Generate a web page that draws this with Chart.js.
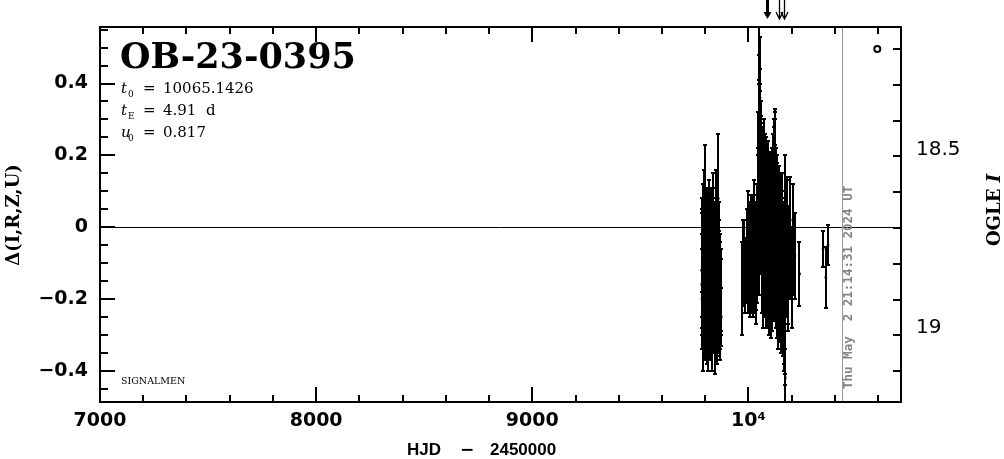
<!DOCTYPE html>
<html><head><meta charset="utf-8">
<script src="https://cdn.jsdelivr.net/npm/chart.js@4.4.1/dist/chart.umd.min.js"></script>
<style>html,body{margin:0;padding:0;background:#fff;}#c{display:block;}</style>
</head><body>
<canvas id="c" width="1004" height="459"></canvas>
<script>
// ---- data (HJD - 2450000, delta mag, error) ----
const s1HJD = [9783,9785,9787,9789,9790,9792,9794,9795,9797,9799,9800,9802,9804,9806,9808,9810,9811,9813,9815,9817,9819,9820,9822,9824,9826,9828,9830,9832,9834,9836,9838,9840,9842,9844,9846,9848,9850,9852,9854,9856,9858,9860,9862,9864,9866,9868,9870,9872,9874];
const s1Delta = [-0.12,-0.20,-0.05,-0.15,-0.28,-0.08,0.02,-0.18,-0.10,0.05,-0.22,-0.14,-0.06,-0.25,-0.12,-0.02,-0.19,-0.09,-0.30,-0.13,0.00,-0.17,-0.07,-0.24,-0.11,-0.03,-0.20,-0.28,-0.10,-0.15,0.00,-0.22,-0.08,-0.30,-0.13,-0.05,-0.18,0.02,-0.12,-0.26,-0.09,0.08,-0.15,-0.20,-0.06,-0.23,-0.12,-0.18,-0.25];
const s1Err = [0.16,0.14,0.13,0.15,0.12,0.15,0.14,0.17,0.12,0.18,0.15,0.14,0.16,0.13,0.15,0.12,0.16,0.14,0.10,0.15,0.13,0.14,0.15,0.13,0.16,0.14,0.15,0.12,0.14,0.16,0.15,0.13,0.14,0.11,0.15,0.13,0.14,0.14,0.16,0.12,0.14,0.18,0.14,0.15,0.13,0.14,0.10,0.12,0.08];

const s1bHJD = [9784,9786,9788,9791,9793,9796,9798,9801,9803,9805,9807,9809,9812,9814,9816,9818,9821,9823,9825,9827,9829,9831,9833,9835,9837,9839,9841,9843,9845,9847,9849,9851,9853,9855,9857,9859,9861,9863,9865,9867,9869,9871];
const s1bDelta = [-0.16,-0.10,-0.21,-0.04,-0.13,-0.19,-0.08,-0.15,-0.24,-0.11,-0.03,-0.17,-0.09,-0.20,-0.14,-0.06,-0.22,-0.12,-0.18,-0.07,-0.25,-0.10,-0.15,-0.02,-0.19,-0.13,-0.08,-0.21,-0.16,-0.11,-0.04,-0.18,-0.23,-0.09,-0.14,-0.20,-0.06,-0.17,-0.12,-0.22,-0.15,-0.19];
const s1bErr = [0.14,0.15,0.13,0.16,0.14,0.15,0.13,0.14,0.12,0.15,0.14,0.16,0.13,0.14,0.15,0.13,0.14,0.16,0.13,0.15,0.12,0.14,0.15,0.13,0.14,0.16,0.15,0.13,0.14,0.12,0.15,0.14,0.13,0.15,0.16,0.14,0.13,0.15,0.14,0.12,0.11,0.10];

const s2aHJD = [9972,9980,9988,9995,10000,10005,10010,10015,10020,10025,10030,10035,10040];
const s2aDelta = [-0.17,-0.08,-0.12,-0.05,-0.02,-0.10,-0.04,-0.14,-0.08,0.02,-0.10,-0.12,-0.06];
const s2aErr = [0.13,0.10,0.09,0.10,0.12,0.11,0.13,0.10,0.12,0.11,0.14,0.15,0.15];

const s2a2HJD = [9977,9985,9992,9998,10003,10008,10013,10018,10023,10028,10033,10038];
const s2a2Delta = [-0.10,-0.14,-0.06,-0.11,-0.03,-0.13,-0.07,-0.02,-0.12,-0.05,-0.09,-0.01];
const s2a2Err = [0.12,0.10,0.11,0.13,0.10,0.12,0.14,0.11,0.13,0.12,0.14,0.13];

const s2bHJD = [10044,10046,10048,10050,10051,10052,10053,10054,10055,10056,10058,10060,10062,10064,10066,10069,10072,10075,10078,10081,10084,10087,10090,10093,10096,10099,10102,10105,10108,10111,10114,10117,10119,10121,10123,10125,10127,10130,10133,10136,10139,10142,10145,10148,10151,10154,10157,10160,10163,10165,10167,10169,10170,10172,10175,10178,10181,10185,10190,10195,10200,10205,10210,10215,10236];
const s2bDelta = [0.10,0.22,0.32,0.40,0.48,0.44,0.36,0.30,0.26,0.20,0.15,0.24,0.12,0.05,0.18,0.08,0.14,-0.02,0.10,0.04,-0.06,0.08,0.00,-0.10,0.06,-0.04,0.02,-0.12,0.10,0.04,-0.08,0.10,0.16,0.20,0.08,0.22,-0.02,0.06,-0.08,0.04,-0.14,-0.05,0.00,-0.18,-0.08,0.02,-0.20,-0.12,-0.28,-0.16,-0.34,0.06,-0.42,-0.10,-0.04,0.02,-0.15,-0.06,-0.02,-0.10,-0.16,0.02,-0.08,-0.08,-0.13];
const s2bErr = [0.12,0.10,0.09,0.08,0.08,0.09,0.08,0.10,0.12,0.10,0.14,0.11,0.13,0.15,0.10,0.14,0.12,0.15,0.13,0.14,0.16,0.12,0.15,0.14,0.13,0.16,0.15,0.14,0.12,0.13,0.15,0.14,0.14,0.12,0.15,0.11,0.16,0.14,0.15,0.13,0.15,0.16,0.14,0.14,0.15,0.13,0.15,0.16,0.12,0.14,0.10,0.14,0.08,0.15,0.14,0.12,0.14,0.12,0.16,0.10,0.12,0.10,0.11,0.12,0.09];

const s2cHJD = [10045,10047,10049,10057,10059,10061,10063,10065,10067,10068,10070,10071,10073,10074,10076,10077,10079,10080,10082,10083,10085,10086,10088,10089,10091,10092,10094,10095,10097,10098,10100,10101,10103,10104,10106,10107,10109,10110,10112,10113,10115,10116,10118,10120,10122,10124,10126,10128,10129,10131,10132,10134,10135,10137,10138,10140,10141,10143,10144,10146,10147,10149,10150,10152,10153,10155,10156,10158,10159,10161,10162,10164,10166,10168,10171,10173,10176,10180,10183,10188];
const s2cDelta = [0.08,-0.05,0.12,0.18,0.02,0.10,-0.08,0.14,0.04,-0.12,0.16,0.00,0.09,-0.10,0.12,-0.04,0.06,-0.14,0.10,0.02,-0.08,0.08,-0.12,0.04,-0.02,0.10,-0.15,0.05,-0.06,0.02,-0.12,0.06,-0.04,-0.16,0.03,-0.09,0.08,-0.13,0.00,-0.06,0.12,-0.10,0.15,0.04,-0.08,0.18,0.02,-0.12,0.08,-0.04,-0.16,0.04,-0.09,0.00,-0.20,-0.06,0.02,-0.14,-0.08,-0.02,-0.18,-0.10,0.00,-0.22,-0.12,-0.05,-0.16,-0.24,-0.08,-0.14,-0.20,-0.26,-0.10,-0.30,-0.06,-0.12,-0.02,-0.10,-0.14,-0.08];
const s2cErr = [0.12,0.14,0.12,0.13,0.15,0.14,0.16,0.13,0.15,0.16,0.14,0.15,0.16,0.15,0.14,0.16,0.15,0.14,0.15,0.16,0.15,0.14,0.16,0.15,0.16,0.14,0.15,0.16,0.15,0.14,0.16,0.15,0.14,0.15,0.16,0.15,0.14,0.16,0.15,0.14,0.14,0.16,0.13,0.15,0.16,0.12,0.15,0.16,0.14,0.15,0.15,0.14,0.16,0.15,0.14,0.16,0.15,0.14,0.16,0.15,0.14,0.16,0.15,0.13,0.16,0.15,0.14,0.12,0.15,0.16,0.14,0.12,0.15,0.11,0.14,0.13,0.15,0.12,0.13,0.12];

const s3HJD = [10345,10358,10368];
const s3Delta = [-0.06,-0.14,-0.05];
const s3Err = [0.05,0.085,0.055];

const markerHJD = [10596];
const markerDelta = [0.496];
const arrowHJD = [10084,10141,10166];
const arrowBold = [true,false,false];
const nowHJD = 10433.385;
const nowLabel = 'Thu May  2 21:14:31 2024 UT';

const xTickValues = [7000,8000,9000,10000];
const xTickLabels = ['7000','8000','9000','10\u2074'];
const yTickValues = [-0.4,-0.2,0,0.2,0.4];
const yTickLabels = ['\u22120.4','\u22120.2','0','0.2','0.4'];
const y2TickValues = [18.5,19];
const y2TickLabels = ['18.5','19'];

const hjd = [].concat(s1HJD,s1bHJD,s2aHJD,s2a2HJD,s2bHJD,s2cHJD,s3HJD);
const delta = [].concat(s1Delta,s1bDelta,s2aDelta,s2a2Delta,s2bDelta,s2cDelta,s3Delta);
const err = [].concat(s1Err,s1bErr,s2aErr,s2a2Err,s2bErr,s2cErr,s3Err);

function lookup(vals,labels,v){
  for(let i=0;i<vals.length;i++){ if(Math.abs(vals[i]-v)<1e-6) return labels[i]; }
  return '';
}

const errorBars = {
  id:'errorBars',
  beforeDatasetsDraw(chart){
    const {ctx, chartArea:a} = chart;
    const x = chart.scales.x, y = chart.scales.y;
    ctx.save();
    ctx.beginPath(); ctx.rect(a.left,a.top,a.right-a.left,a.bottom-a.top); ctx.clip();
    ctx.strokeStyle='#000'; ctx.lineWidth=1;
    const y0 = Math.round(y.getPixelForValue(0))+0.5;
    ctx.beginPath(); ctx.moveTo(a.left,y0); ctx.lineTo(a.right,y0); ctx.stroke();
    const xn = Math.round(x.getPixelForValue(nowHJD))+0.5;
    ctx.strokeStyle='#999'; ctx.lineWidth=1;
    ctx.beginPath(); ctx.moveTo(xn,a.top); ctx.lineTo(xn,a.bottom); ctx.stroke();
    ctx.strokeStyle='#000'; ctx.lineWidth=2;
    for(let i=0;i<hjd.length;i++){
      const px = Math.round(x.getPixelForValue(hjd[i]));
      const t = Math.round(y.getPixelForValue(delta[i]+err[i]));
      const b = Math.round(y.getPixelForValue(delta[i]-err[i]));
      ctx.beginPath();
      ctx.moveTo(px,t); ctx.lineTo(px,b);
      ctx.moveTo(px-2,t); ctx.lineTo(px+2,t);
      ctx.moveTo(px-2,b); ctx.lineTo(px+2,b);
      ctx.stroke();
    }
    ctx.restore();
  }
};

const decor = {
  id:'decor',
  afterDraw(chart){
    const {ctx, chartArea:a} = chart;
    const x = chart.scales.x, y = chart.scales.y, y2 = chart.scales.y2;
    ctx.save();
    ctx.strokeStyle='#000'; ctx.fillStyle='#000'; ctx.lineWidth=2;
    ctx.strokeRect(a.left,a.top,a.right-a.left,a.bottom-a.top);
    ctx.beginPath();
    for(let v=7000; v<=x.max; v+=200){
      const px = Math.round(x.getPixelForValue(v));
      const L = (v%1000===0)?15:7;
      ctx.moveTo(px,a.bottom); ctx.lineTo(px,a.bottom-L);
      ctx.moveTo(px,a.top); ctx.lineTo(px,a.top+L);
    }
    for(let k=-9;k<=11;k++){
      const v=k*0.05; if(v<y.min||v>y.max) continue;
      const py = Math.round(y.getPixelForValue(v));
      const L = (k%4===0)?15:8;
      ctx.moveTo(a.left,py); ctx.lineTo(a.left+L,py);
    }
    for(let k=182;k<=1920;k+=10){
      const v=k/100; if(v<y2.min||v>y2.max) continue;
      const py = Math.round(y2.getPixelForValue(v));
      const L = (k===1850||k===1900)?15:8;
      ctx.moveTo(a.right,py); ctx.lineTo(a.right-L,py);
    }
    ctx.stroke();

    arrowHJD.forEach((h,i)=>{
      const px = Math.round(x.getPixelForValue(h))+0.5;
      const tip = 19;
      if(arrowBold[i]){
        ctx.lineWidth=3;
        ctx.beginPath(); ctx.moveTo(px,0); ctx.lineTo(px,tip-5); ctx.stroke();
        ctx.beginPath(); ctx.moveTo(px-4,tip-7); ctx.lineTo(px+4,tip-7); ctx.lineTo(px,tip); ctx.closePath(); ctx.fill();
      } else {
        ctx.lineWidth=1.3;
        ctx.beginPath(); ctx.moveTo(px,0); ctx.lineTo(px,tip);
        ctx.moveTo(px-3.5,tip-7); ctx.lineTo(px,tip); ctx.lineTo(px+3.5,tip-7); ctx.stroke();
      }
    });

    ctx.textBaseline='alphabetic'; ctx.textAlign='left';
    ctx.font='bold 35px "DejaVu Serif"';
    ctx.fillText('OB-23-0395',120,68);
    function param(yb,sym,sub,val){
      ctx.font='italic 15px "DejaVu Serif"'; ctx.fillText(sym,121,yb);
      ctx.font='9px "DejaVu Serif"'; ctx.fillText(sub,128,yb+4);
      ctx.font='15px "DejaVu Serif"'; ctx.fillText('=',143,yb); ctx.fillText(val,163,yb);
    }
    param(93,'t','0','10065.1426');
    param(115,'t','E','4.91  d');
    param(137,'u','0','0.817');
    ctx.font='9.5px "DejaVu Serif"';
    ctx.fillText('SIGNALMEN',121,384);

    ctx.font='bold 17px "Liberation Sans"';
    ctx.fillText('HJD',407,455);
    ctx.fillText('2450000',490,455);
    ctx.font='bold 17px "DejaVu Sans"';
    ctx.fillText('\u2212',460,455);

    ctx.save();
    ctx.translate(14,215); ctx.rotate(-Math.PI/2);
    ctx.textAlign='center'; ctx.textBaseline='middle';
    ctx.font='bold 18px "DejaVu Serif"';
    ctx.fillText('\u0394(I,R,Z,U)',0,0);
    ctx.restore();

    ctx.save();
    ctx.translate(995,210); ctx.rotate(-Math.PI/2);
    ctx.textBaseline='middle'; ctx.textAlign='left';
    ctx.font='bold 18px "DejaVu Serif"';
    const w1 = ctx.measureText('OGLE ').width;
    ctx.font='bold italic 18px "DejaVu Serif"';
    const w2 = ctx.measureText('I').width;
    const start = -(w1+w2)/2;
    ctx.font='bold 18px "DejaVu Serif"'; ctx.fillText('OGLE ',start,0);
    ctx.font='bold italic 18px "DejaVu Serif"'; ctx.fillText('I',start+w1,0);
    ctx.restore();

    ctx.save();
    const xn = x.getPixelForValue(nowHJD);
    ctx.translate(xn+7,389); ctx.rotate(-Math.PI/2);
    ctx.textAlign='left'; ctx.textBaseline='middle';
    ctx.fillStyle='#858585';
    ctx.font='bold 12.5px "DejaVu Sans Mono"';
    ctx.fillText(nowLabel,0,0);
    ctx.restore();

    ctx.restore();
  }
};

const points = hjd.map((h,i)=>({x:h,y:delta[i]}));
const marker = markerHJD.map((h,i)=>({x:h,y:markerDelta[i]}));

function fixTicks(vals){ return (s)=>{ s.ticks = vals.map(v=>({value:v})); }; }

new Chart(document.getElementById('c'),{
  type:'scatter',
  data:{datasets:[
    {data:points, pointStyle:'rect', pointRadius:1.8, backgroundColor:'#000', borderWidth:0, yAxisID:'y'},
    {data:marker, pointStyle:'circle', pointRadius:3, backgroundColor:'#fff', borderColor:'#000', borderWidth:2, yAxisID:'y'}
  ]},
  options:{
    responsive:false, animation:false, devicePixelRatio:1, events:[],
    layout:{padding:{top:26,left:0,right:0,bottom:0}},
    plugins:{legend:{display:false}, tooltip:{enabled:false}},
    scales:{
      x:{type:'linear', position:'bottom', min:7000, max:10705.7,
        grid:{display:false, drawTicks:false}, border:{display:false},
        afterBuildTicks: fixTicks(xTickValues),
        ticks:{autoSkip:false, maxRotation:0, minRotation:0, padding:8, color:'#000',
          font:{family:'DejaVu Sans', size:19, weight:'bold'},
          callback:(v)=>lookup(xTickValues,xTickLabels,v)},
        afterFit:(s)=>{s.height=57;}},
      y:{type:'linear', position:'left', min:-0.487, max:0.5575,
        grid:{display:false, drawTicks:false}, border:{display:false},
        afterBuildTicks: fixTicks(yTickValues),
        ticks:{autoSkip:false, padding:12, color:'#000',
          font:{family:'DejaVu Sans', size:19, weight:'bold'},
          callback:(v)=>lookup(yTickValues,yTickLabels,v)},
        afterFit:(s)=>{s.width=100;}},
      y2:{type:'linear', position:'right', min:18.158, max:19.2066, reverse:true,
        grid:{display:false, drawTicks:false}, border:{display:false},
        afterBuildTicks: fixTicks(y2TickValues),
        ticks:{autoSkip:false, padding:15, color:'#000',
          font:{family:'DejaVu Sans', size:20},
          callback:(v)=>lookup(y2TickValues,y2TickLabels,v)},
        afterFit:(s)=>{s.width=103;}}
    }
  },
  plugins:[errorBars, decor]
});
</script>
</body></html>
